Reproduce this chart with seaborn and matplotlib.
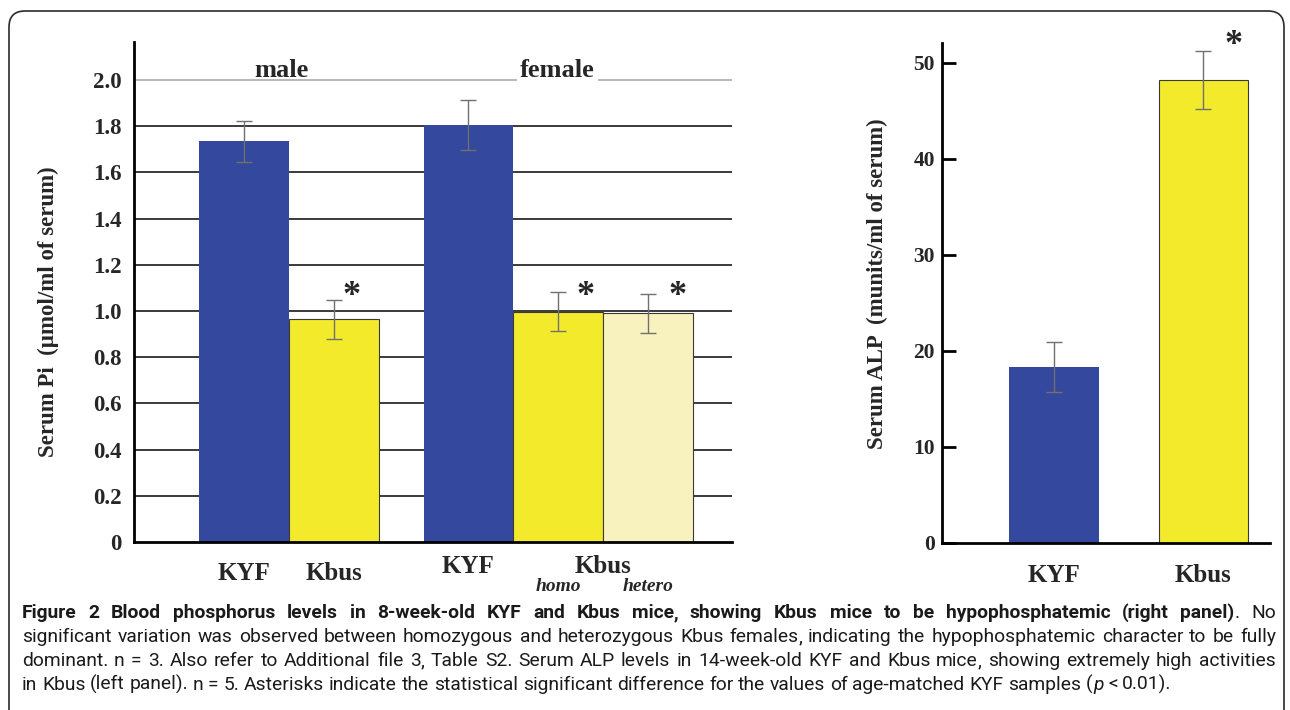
import numpy as np
import pandas as pd
import matplotlib
matplotlib.use("Agg")
import matplotlib.pyplot as plt
import seaborn as sns
from matplotlib.patches import FancyBboxPatch
from matplotlib.transforms import IdentityTransform, blended_transform_factory

# ---------------- data ----------------
pi_strain = ["KYF", "Kbus", "KYF", "Kbus_homo", "Kbus_hetero"]
pi_sex = ["male", "male", "female", "female", "female"]
pi_pos = [0, 1, 2.5, 3.5, 4.5]
pi_mean = [1.735, 0.965, 1.805, 0.998, 0.990]
pi_err = [0.088, 0.085, 0.108, 0.085, 0.085]
pi_sig = [False, True, False, True, True]
pi_yticks = [0, 0.2, 0.4, 0.6, 0.8, 1.0, 1.2, 1.4, 1.6, 1.8, 2.0]
pi_yticklabels = ["0", "0.2", "0.4", "0.6", "0.8", "1.0", "1.2", "1.4", "1.6", "1.8", "2.0"]
pi_group_labels = ["male", "female"]
pi_xlabels_main = ["KYF", "Kbus", "KYF", "Kbus"]
pi_xlabels_sub = ["homo", "hetero"]

alp_strain = ["KYF", "Kbus"]
alp_mean = [18.3, 48.2]
alp_err = [2.6, 3.0]
alp_sig = [False, True]
alp_yticks = [0, 10, 20, 30, 40, 50]
alp_yticklabels = ["0", "10", "20", "30", "40", "50"]

ylabel_left = "Serum Pi  (\u00b5mol/ml of serum)"
ylabel_right = "Serum ALP  (munits/ml of serum)"

caption_segments = [
    [("Figure 2 Blood phosphorus levels in 8-week-old KYF and Kbus mice, showing Kbus mice to be hypophosphatemic (right panel)", "bold", "normal", False),
     (".", "normal", "normal", True),
     ("No", "normal", "normal", False)],
    [("significant variation was observed between homozygous and heterozygous Kbus females, indicating the hypophosphatemic character to be fully", "normal", "normal", False)],
    [("dominant. n = 3. Also refer to Additional file 3, Table S2. Serum ALP levels in 14-week-old KYF and Kbus mice, showing extremely high activities", "normal", "normal", False)],
    [("in Kbus (left panel). n = 5. Asterisks indicate the statistical significant difference for the values of age-matched KYF samples (", "normal", "normal", False),
     ("p", "normal", "italic", True),
     ("< 0.01).", "normal", "normal", False)],
]

# ---------------- style ----------------
BLUE = "#34489E"
YELLOW = "#F3EA2C"
LIGHTYELLOW = "#F8F3BE"
palette = {"KYF": BLUE, "Kbus": YELLOW, "Kbus_homo": YELLOW, "Kbus_hetero": LIGHTYELLOW}

sns.set_style("white")
plt.rcParams["font.family"] = ["Liberation Serif", "DejaVu Serif"]
plt.rcParams["font.weight"] = "bold"

CAP_FONT = ["Roboto", "DejaVu Sans"]
CAP_SIZE = 14.0

W, H = 1290, 710
fig = plt.figure(figsize=(W / 100, H / 100), dpi=100)
fig.patch.set_facecolor("white")

frame = FancyBboxPatch((9, -30), 1275, H - 11 + 30,
                       boxstyle="round,pad=0,rounding_size=16",
                       transform=IdentityTransform(), fill=False,
                       ec="#2a2a2a", lw=1.2)
fig.add_artist(frame)

# ---------------- left panel ----------------
ax1 = fig.add_axes([134 / W, (H - 542) / H, (732 - 134) / W, 500 / H])
df_pi = pd.DataFrame({"pos": pi_pos, "mean": pi_mean, "strain": pi_strain, "sex": pi_sex})
sns.barplot(data=df_pi, x="pos", y="mean", hue="strain", palette=palette,
            native_scale=True, width=1.0, dodge=False, errorbar=None,
            saturation=1, legend=False, linewidth=0, ax=ax1)
for p in ax1.patches:
    fc = matplotlib.colors.to_hex(p.get_facecolor())
    if fc.lower() != BLUE.lower():
        p.set_edgecolor("#3a3a3a")
        p.set_linewidth(0.8)
ax1.errorbar(pi_pos, pi_mean, yerr=pi_err, fmt="none", ecolor="#707070",
             elinewidth=1.0, capsize=6, capthick=1.0, zorder=5)

ax1.set_xlim(-1.225, 5.435)
ax1.set_ylim(0, 2.165)
ax1.set_yticks(pi_yticks)
ax1.set_yticklabels(pi_yticklabels, fontsize=16.5, fontweight="bold")
ax1.tick_params(axis="y", length=0, pad=9)
ax1.set_xticks([])
ax1.set_xlabel("")
ax1.set_ylabel("")
ax1.yaxis.grid(True, color="#3a3a3a", lw=1.4)
ax1.set_axisbelow(True)
for gl, v in zip(ax1.get_ygridlines(), pi_yticks):
    if v == 2.0:
        gl.set_color("#b8b8b8")
    if v == 0:
        gl.set_visible(False)
for s in ["top", "right"]:
    ax1.spines[s].set_visible(False)
for s in ["left", "bottom"]:
    ax1.spines[s].set_linewidth(2.0)
    ax1.spines[s].set_color("black")

ax1.text(0.42, 2.013, pi_group_labels[0], fontsize=19, fontweight="bold",
         ha="center", va="baseline")
ax1.text(3.49, 2.013, pi_group_labels[1], fontsize=19, fontweight="bold",
         ha="center", va="baseline",
         bbox=dict(boxstyle="square,pad=0.12", fc="white", ec="none"))

star_dx = [0, 0.2, 0, 0.3, 0.33]
for x, sig, dx in zip(pi_pos, pi_sig, star_dx):
    if sig:
        ax1.text(x + dx, 1.026, "*", fontsize=26, fontweight="bold",
                 ha="center", va="baseline")

tr1 = blended_transform_factory(ax1.transData, ax1.transAxes)
main_x = [0, 1, 2.5, 4.0]
main_y = [-0.076, -0.076, -0.062, -0.062]
for lab, x, y in zip(pi_xlabels_main, main_x, main_y):
    ax1.text(x, y, lab, transform=tr1, fontsize=18, fontweight="bold",
             ha="center", va="baseline", clip_on=False)
for lab, x in zip(pi_xlabels_sub, [3.5, 4.5]):
    ax1.text(x, -0.098, lab, transform=tr1, fontsize=14, fontweight="bold",
             style="italic", ha="center", va="baseline", clip_on=False)

fig.text(48 / W, (H - 312) / H, ylabel_left, rotation=90, fontsize=16.5,
         fontweight="bold", ha="center", va="center")

# ---------------- right panel ----------------
ax2 = fig.add_axes([942 / W, (H - 543) / H, (1270 - 942) / W, 500 / H])
df_alp = pd.DataFrame({"strain": alp_strain, "mean": alp_mean})
sns.barplot(data=df_alp, x="strain", y="mean", hue="strain", palette=palette,
            width=0.6, errorbar=None, saturation=1, legend=False,
            linewidth=0, ax=ax2)
for p in ax2.patches:
    fc = matplotlib.colors.to_hex(p.get_facecolor())
    if fc.lower() != BLUE.lower():
        p.set_edgecolor("#3a3a3a")
        p.set_linewidth(0.8)
ax2.errorbar([0, 1], alp_mean, yerr=alp_err, fmt="none", ecolor="#707070",
             elinewidth=1.0, capsize=6, capthick=1.0, zorder=5)
ax2.set_xlim(-0.749, 1.445)
ax2.set_ylim(0, 52.08)
ax2.set_yticks(alp_yticks)
ax2.set_yticklabels(alp_yticklabels, fontsize=15.5, fontweight="bold")
ax2.yaxis.set_tick_params(which="major", left=True, direction="in",
                          length=10, width=2.0, pad=5, color="black")
ax2.set_xticks([])
ax2.set_xlabel("")
ax2.set_ylabel("")
for s in ["top", "right"]:
    ax2.spines[s].set_visible(False)
for s in ["left", "bottom"]:
    ax2.spines[s].set_linewidth(2.0)
    ax2.spines[s].set_color("black")
tr2 = blended_transform_factory(ax2.transData, ax2.transAxes)
for i, lab in enumerate(alp_strain):
    ax2.text(i, -0.078, lab, transform=tr2, fontsize=18, fontweight="bold",
             ha="center", va="baseline", clip_on=False)
for i, sig in enumerate(alp_sig):
    if sig:
        ax2.text(i + 0.2, 50.9, "*", fontsize=26, fontweight="bold",
                 ha="center", va="baseline", clip_on=False)
fig.text(877 / W, (H - 284) / H, ylabel_right, rotation=90, fontsize=16.5,
         fontweight="bold", ha="center", va="center")

# ---------------- caption (justified, word by word) ----------------
renderer = fig.canvas.get_renderer()


def measure(s, size, weight, style):
    t = fig.text(0, 0, s, fontsize=size, fontweight=weight, fontstyle=style,
                 family=CAP_FONT)
    w = t.get_window_extent(renderer).width
    t.remove()
    return w


def tokens_of(line):
    toks = []
    for text, weight, style, attach in line:
        words = text.split(" ")
        for k, wd in enumerate(words):
            att = attach if k == 0 else False
            # a trailing comma is set as its own run, glued to the word
            if len(wd) > 1 and wd.endswith(","):
                toks.append((wd[:-1], weight, style, att))
                toks.append((",", weight, style, True))
            else:
                toks.append((wd, weight, style, att))
    return toks


cap_left, cap_right = 22, 1276
avail = cap_right - cap_left
baselines = [618, 642, 666, 690]
size = CAP_SIZE


def natural(toks, size):
    sp = measure("x x", size, "normal", "normal") - measure("xx", size, "normal", "normal")
    widths = [measure(t[0], size, t[1], t[2]) for t in toks]
    ngaps = sum(1 for i, t in enumerate(toks) if i > 0 and not t[3])
    return widths, sp, ngaps, sum(widths) + ngaps * sp


all_toks = [tokens_of(l) for l in caption_segments]
mx = max(natural(t, size)[3] for t in all_toks[:3])
if mx > avail * 0.99:
    size = size * avail * 0.99 / mx

for li, toks in enumerate(all_toks):
    widths, sp, ngaps, nat = natural(toks, size)
    if li < 3 and ngaps > 0:
        gap = (avail - sum(widths)) / ngaps
    else:
        gap = sp
    x = cap_left
    ybase = round(baselines[li])
    for i, (t, wdt) in enumerate(zip(toks, widths)):
        if i > 0 and not t[3]:
            x += gap
        fig.text(round(x) / W, (H - ybase) / H, t[0], fontsize=size,
                 fontweight=t[1], fontstyle=t[2], family=CAP_FONT,
                 ha="left", va="baseline", color="#1a1a1a")
        x += wdt

fig.savefig("out.png", dpi=100, facecolor="white")
